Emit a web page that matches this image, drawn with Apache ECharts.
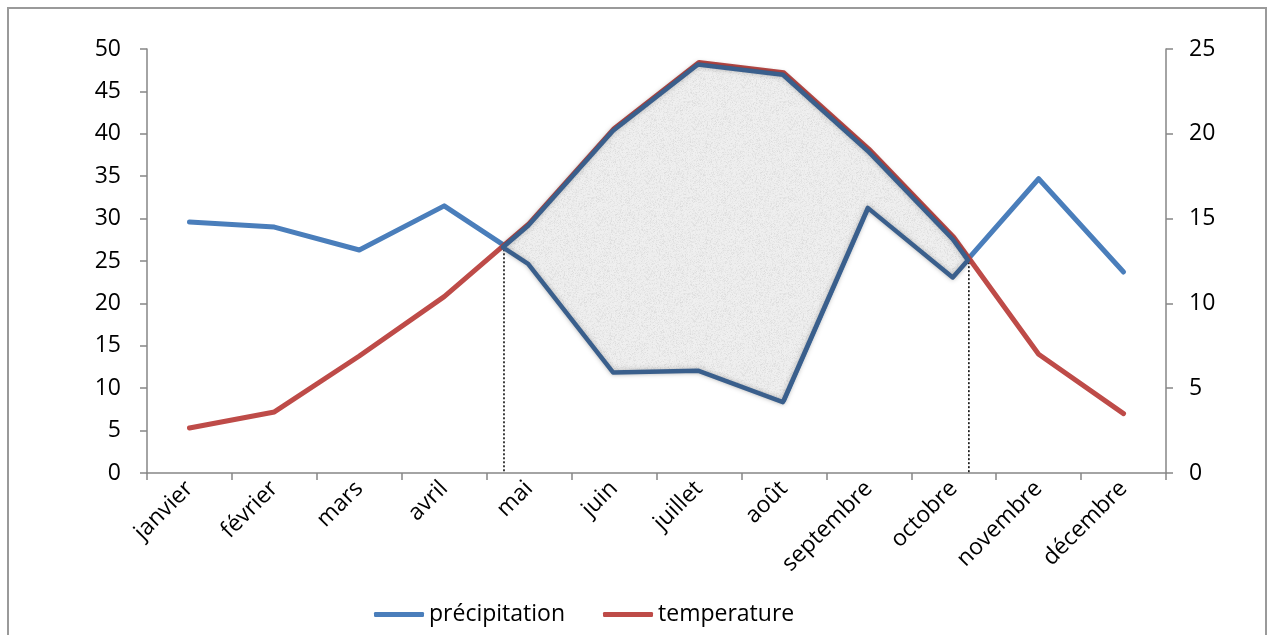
<!DOCTYPE html>
<html>
<head>
<meta charset="utf-8">
<script src="https://cdn.jsdelivr.net/npm/echarts@6/dist/echarts.min.js"></script>
<style>
  html, body { margin: 0; padding: 0; background: #fff; }
  #frame { position: absolute; left: 7px; top: 7px; width: 1260px; height: 640px; border: 2px solid #9a9a9a; box-sizing: border-box; }
  #chart { position: absolute; left: 0; top: 0; width: 1272px; height: 635px; }
</style>
</head>
<body>
<div id="frame"></div>
<div id="chart"></div>
<script>
// Monthly climate data
const months = ['janvier', 'février', 'mars', 'avril', 'mai', 'juin', 'juillet', 'août', 'septembre', 'octobre', 'novembre', 'décembre'];
const precipitation = [29.6, 29.0, 26.3, 31.5, 24.9, 12.1, 12.3, 8.6, 31.5, 23.3, 34.7, 23.7];
const temperature = [2.65, 3.6, 6.9, 10.4, 14.7, 20.3, 24.2, 23.6, 19.1, 13.9, 7.0, 3.5];
const leftTicks = [0, 50, 5];   // min, max, step (mm)
const rightTicks = [0, 25, 5];  // min, max, step (°C)

const FONT = '"Open Sans", sans-serif';
const FS = 23;
const AXIS_GREY = '#868686';
const BLUE = '#4a7ebb';
const RED = '#be4b48';
const DARK = '#3a5f8c';

// Temperature expressed on the precipitation scale (P = 2T)
const ratio = leftTicks[1] / rightTicks[1];
const tScaled = temperature.map(t => t * ratio);

// Find where the two curves cross (segment-wise linear)
function crossings() {
  const out = [];
  for (let i = 0; i < months.length - 1; i++) {
    const d0 = precipitation[i] - tScaled[i];
    const d1 = precipitation[i + 1] - tScaled[i + 1];
    if (d0 * d1 < 0) {
      const f = d0 / (d0 - d1);
      out.push({ i, x: i + f, y: precipitation[i] + f * (precipitation[i + 1] - precipitation[i]) });
    }
  }
  return out;
}
const cross = crossings();
const c1 = cross[0], c2 = cross[cross.length - 1];

// Dry period: temperature curve above precipitation between the two crossings
const dryTop = [[c1.x, c1.y]];
const dryBottom = [];
for (let i = c1.i + 1; i <= c2.i; i++) {
  dryTop.push([i, tScaled[i]]);
  dryBottom.push([i, precipitation[i]]);
}
dryTop.push([c2.x, c2.y]);
const dryPolygon = dryTop.concat(dryBottom.reverse());

// Grainy light-grey texture for the dry-period fill
function grainPattern() {
  const size = 96;
  const cv = document.createElement('canvas');
  cv.width = size; cv.height = size;
  const ctx = cv.getContext('2d');
  const img = ctx.createImageData(size, size);
  let s = 1234567;
  const next = () => { s = (s * 1103515245 + 12345) & 0x7fffffff; return s / 0x7fffffff; };
  for (let p = 0; p < size * size; p++) {
    const v = Math.round(240 - next() * 22 * next());
    img.data[p * 4] = v; img.data[p * 4 + 1] = v; img.data[p * 4 + 2] = v; img.data[p * 4 + 3] = 255;
  }
  ctx.putImageData(img, 0, 0);
  // soften the grain a little
  const cv2 = document.createElement('canvas');
  cv2.width = size; cv2.height = size;
  const ctx2 = cv2.getContext('2d');
  ctx2.filter = 'blur(0.7px)';
  ctx2.drawImage(cv, 0, 0);
  ctx2.drawImage(cv, -size, 0); ctx2.drawImage(cv, size, 0);
  ctx2.drawImage(cv, 0, -size); ctx2.drawImage(cv, 0, size);
  return cv2;
}
const grain = grainPattern();

const chart = echarts.init(document.getElementById('chart'), null, { renderer: 'canvas' });

function yAxisCommon(margin) {
  return {
    type: 'value',
    axisLine: { show: true, onZero: false, lineStyle: { color: AXIS_GREY, width: 1.5 } },
    axisTick: { show: true, length: 7, lineStyle: { color: AXIS_GREY, width: 1.5 } },
    axisLabel: { fontSize: FS, color: '#000', fontFamily: FONT, margin: margin },
    splitLine: { show: false }
  };
}

chart.setOption({
  backgroundColor: 'transparent',
  animation: false,
  textStyle: { fontFamily: FONT },
  grid: { left: 147, right: 106, top: 49, bottom: 162, containLabel: false },
  legend: {
    left: 369,
    top: 598,
    itemWidth: 50,
    itemHeight: 5,
    itemGap: 38,
    icon: 'roundRect',
    textStyle: { fontFamily: FONT, fontSize: FS, color: '#000', padding: [0, 0, 0, 0] },
    data: ['précipitation', 'temperature']
  },
  xAxis: [
    {
      type: 'category',
      data: months,
      boundaryGap: true,
      axisLine: { onZero: false, lineStyle: { color: AXIS_GREY, width: 1.5 } },
      axisTick: { show: true, length: 7, lineStyle: { color: AXIS_GREY, width: 1.5 } },
      axisLabel: { rotate: 45, fontSize: FS, color: '#000', fontFamily: FONT, margin: 12, interval: 0 },
      splitLine: { show: false }
    },
    {
      type: 'value',
      min: -0.5,
      max: months.length - 0.5,
      show: false
    }
  ],
  yAxis: [
    Object.assign(yAxisCommon(26), {
      position: 'left',
      min: leftTicks[0], max: leftTicks[1], interval: leftTicks[2]
    }),
    Object.assign(yAxisCommon(23), {
      position: 'right',
      min: rightTicks[0], max: rightTicks[1], interval: rightTicks[2]
    })
  ],
  series: [
    {
      name: 'précipitation',
      type: 'line',
      data: precipitation,
      yAxisIndex: 0,
      symbol: 'none',
      color: BLUE,
      lineStyle: { color: BLUE, width: 5, cap: 'round', join: 'round' },
      z: 2
    },
    {
      name: 'temperature',
      type: 'line',
      data: temperature,
      yAxisIndex: 1,
      symbol: 'none',
      color: RED,
      lineStyle: { color: RED, width: 5, cap: 'round', join: 'round' },
      z: 3
    },
    {
      name: 'dry',
      type: 'custom',
      xAxisIndex: 1,
      yAxisIndex: 0,
      data: [0],
      silent: true,
      z: 4,
      renderItem: function (params, api) {
        const pts = dryPolygon.map(p => api.coord(p));
        return {
          type: 'polygon',
          x: -1,
          y: 2,
          shape: { points: pts },
          style: {
            fill: { image: grain, repeat: 'repeat' },
            stroke: DARK,
            lineWidth: 4.5,
            lineJoin: 'round',
            shadowBlur: 5,
            shadowColor: 'rgba(0,0,0,0.25)'
          }
        };
      }
    },
    {
      name: 'limit1',
      type: 'line',
      xAxisIndex: 1,
      yAxisIndex: 0,
      data: [[c1.x, c1.y], [c1.x, 0]],
      symbol: 'none',
      silent: true,
      lineStyle: { color: '#000', width: 1.5, type: [2, 2] },
      z: 1
    },
    {
      name: 'limit2',
      type: 'line',
      xAxisIndex: 1,
      yAxisIndex: 0,
      data: [[c2.x, c2.y], [c2.x, 0]],
      symbol: 'none',
      silent: true,
      lineStyle: { color: '#000', width: 1.5, type: [2, 2] },
      z: 1
    }
  ]
});
</script>
</body>
</html>
